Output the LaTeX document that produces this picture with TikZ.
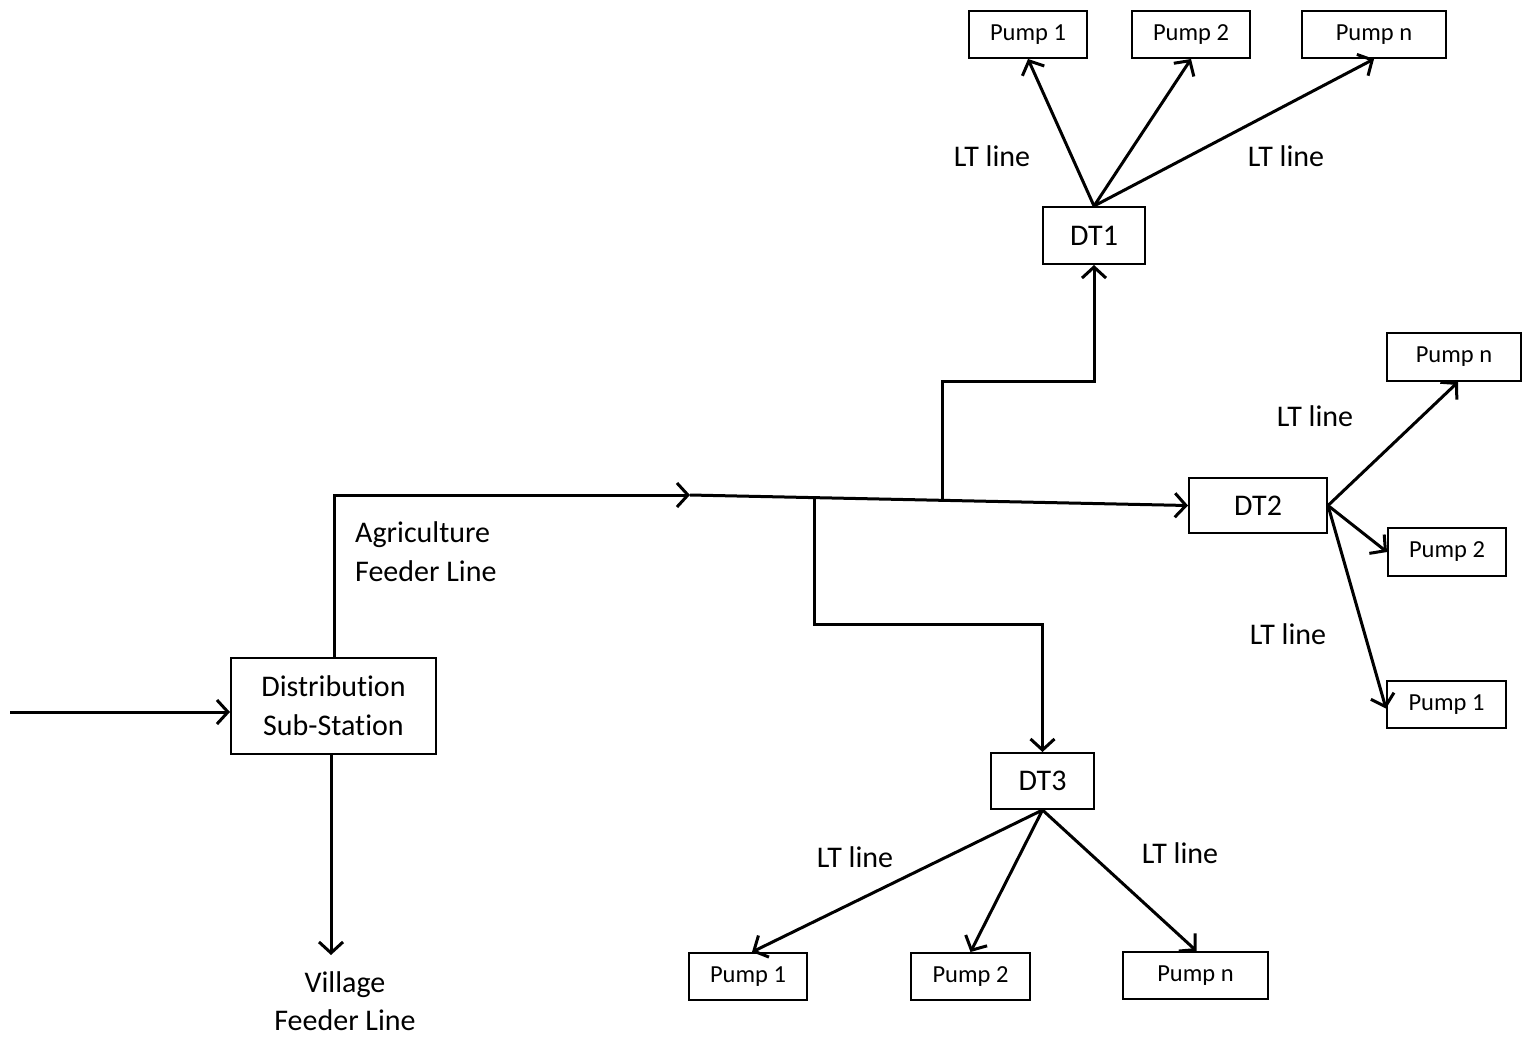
\documentclass[tikz,border=0pt]{standalone}
\usepackage{fontspec}
\setmainfont{Carlito}[Ligatures=NoCommon]
\usetikzlibrary{arrows.meta}
\begin{document}
\begin{tikzpicture}[x=1pt,y=-1pt,
  box/.style={draw, line width=2pt, inner sep=0pt, font=\fontsize{30}{39}\selectfont},
  pump/.style={draw, line width=2pt, inner sep=0pt, minimum height=47pt, font=\fontsize{24.5}{29}\selectfont},
  lbl/.style={inner sep=0pt, font=\fontsize{30}{39}\selectfont},
  conn/.style={line width=3pt, -{Straight Barb[length=11pt,width=24pt,line width=3pt]}},
  wire/.style={line width=3pt}]
\fill[white] (0,0) rectangle (1523,1037);
\useasboundingbox (0,0) rectangle (1523,1037);

% main boxes
\node[box, minimum width=205pt, minimum height=96pt, align=center] (dss) at (333.5,706) {Distribution\\Sub-Station};
\node[box, minimum width=102pt, minimum height=57pt] (dt1) at (1094,235.5) {DT1};
\node[box, minimum width=138pt, minimum height=55pt] (dt2) at (1258,505.5) {DT2};
\node[box, minimum width=103pt, minimum height=56pt] (dt3) at (1042.5,781) {DT3};

% pumps
\node[pump, minimum width=118pt] (t1) at (1028,34.5) {Pump 1};
\node[pump, minimum width=118pt] (t2) at (1191,34.5) {Pump 2};
\node[pump, minimum width=144pt] (tn) at (1374,34.5) {Pump n};
\node[pump, minimum width=134pt, minimum height=48pt] (rn) at (1454,357) {Pump n};
\node[pump, minimum width=118pt, minimum height=48pt] (r2) at (1447,552) {Pump 2};
\node[pump, minimum width=119pt] (r1) at (1446.5,704.5) {Pump 1};
\node[pump, minimum width=118pt] (b1) at (748,976.5) {Pump 1};
\node[pump, minimum width=119pt] (b2) at (970.5,976.5) {Pump 2};
\node[pump, minimum width=145pt] (bn) at (1195.5,975.5) {Pump n};

% labels
\node[lbl] (lt1) at (992,156) {LT line};
\node[lbl] (lt2) at (1286,156) {LT line};
\node[lbl] (lt3) at (1315,416) {LT line};
\node[lbl] (lt4) at (1288,634) {LT line};
\node[lbl] (lt5) at (855,857) {LT line};
\node[lbl] (lt6) at (1180,853) {LT line};
\node[lbl, align=left, anchor=west] (agri) at (355,552) {Agriculture\\Feeder Line};
\node[lbl, align=center, font=\fontsize{30}{38}\selectfont] (vill) at (345,1001) {Village\\Feeder Line};

% coordinates
\coordinate (in) at (10,712);
\coordinate (vend) at (331,955);
\coordinate (agtop) at (334,495);
\coordinate (mid) at (690,495);
\coordinate (j1) at (942,500.6);
\coordinate (k1) at (942,381);
\coordinate (j3) at (814,497.8);
\coordinate (k3) at (814,624);

% connectors
\draw[conn] (in) -- (dss.west |- in);
\draw[conn] (dss.south -| vend) -- (vend);
\draw[conn] (dss.north -| agtop) -- (agtop) -- (mid);
\draw[conn] (mid) -- (dt2.west);
\draw[conn] (j1) -- (k1) -| (dt1.south);
\draw[conn] (j3) -- (k3) -| (dt3.north);

\draw[conn] (dt1.north) -- (t1.south);
\draw[conn] (dt1.north) -- (t2.south);
\draw[conn] (dt1.north) -- (tn.south);

\draw[conn] (dt2.east) -- ([xshift=4pt]rn.south);
\draw[conn] (dt2.east) -- (r2.west);
\draw[conn] (dt2.east) -- ([yshift=-4pt]r1.west);

\draw[conn] (dt3.south) -- ([xshift=4pt]b1.north);
\draw[conn] (dt3.south) -- (b2.north);
\draw[conn] (dt3.south) -- ([xshift=1pt]bn.north);
\end{tikzpicture}
\end{document}
